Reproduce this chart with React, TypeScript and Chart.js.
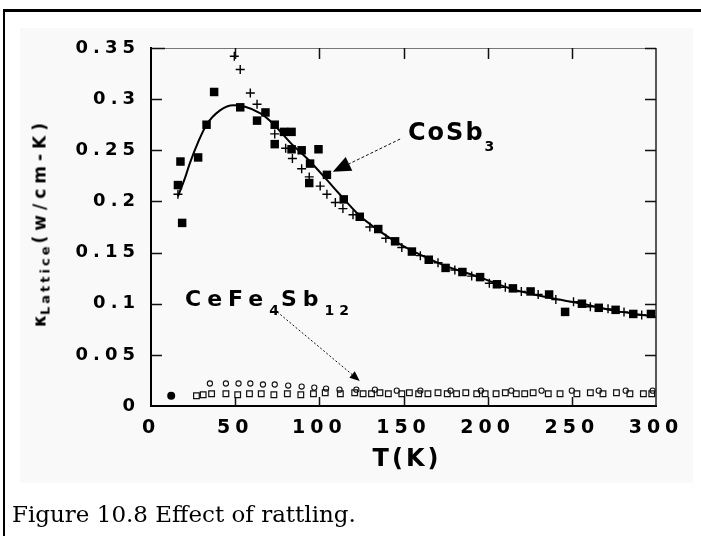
import React, { useEffect, useRef } from "react";
import { Chart, registerables } from "chart.js";
Chart.register(...registerables);

// ---- axis ticks ----
const xTickValues = [0, 50, 100, 150, 200, 250, 300];
const yTickValues = [0, 0.05, 0.1, 0.15, 0.2, 0.25, 0.3, 0.35];

// ---- CoSb3: filled squares ----
const cosbSquareT = [16, 17.5, 18.5, 28, 33, 37.5, 53, 63, 68, 73.5, 73.5, 79, 83.5, 83.5, 89.5, 94.5, 94, 99.5, 104.5, 114.5, 124, 135, 145, 155, 165, 175, 185, 195.5, 205.5, 215, 225.5, 236.5, 246, 256, 266, 276, 286.5, 297];
const cosbSquareK = [0.216, 0.239, 0.179, 0.243, 0.275, 0.307, 0.292, 0.279, 0.287, 0.275, 0.256, 0.268, 0.268, 0.251, 0.25, 0.237, 0.218, 0.251, 0.226, 0.202, 0.185, 0.173, 0.161, 0.151, 0.143, 0.135, 0.131, 0.126, 0.119, 0.115, 0.112, 0.109, 0.092, 0.1, 0.096, 0.094, 0.09, 0.09];

// ---- CoSb3: crosses ----
const cosbCrossT = [16, 49.5, 53, 59, 63, 73.5, 80, 84, 89.5, 94, 100.5, 104.5, 109.5, 114, 120, 130, 139.5, 149, 160, 170.5, 180.5, 190.5, 201, 210.5, 220, 230, 240.5, 251, 261, 271.5, 281, 291.5];
const cosbCrossK = [0.207, 0.342, 0.329, 0.306, 0.295, 0.266, 0.252, 0.242, 0.232, 0.224, 0.215, 0.207, 0.199, 0.193, 0.187, 0.175, 0.164, 0.155, 0.147, 0.14, 0.133, 0.127, 0.12, 0.116, 0.112, 0.109, 0.104, 0.102, 0.097, 0.095, 0.092, 0.089];

// ---- CoSb3: fitted curve ----
const fitT = [16, 20, 23, 28, 33, 41, 49, 55, 65, 72.5, 82.5, 94.5, 104.5, 111, 124, 135, 145, 155, 175, 195, 215, 236, 256, 276, 300];
const fitK = [0.205, 0.222, 0.237, 0.258, 0.275, 0.289, 0.294, 0.293, 0.286, 0.276, 0.258, 0.239, 0.221, 0.209, 0.186, 0.172, 0.161, 0.152, 0.137, 0.126, 0.114, 0.106, 0.1, 0.093, 0.087];

// ---- CeFe4Sb12: open squares ----
const cefeSquareT = [27, 31, 36, 44.5, 51.5, 58.5, 65.5, 73, 81, 89, 96.5, 103.5, 112.5, 121, 126, 131, 136, 141, 149, 153.5, 159, 164.5, 170.5, 176, 181.5, 187, 193.5, 198.5, 205, 210.5, 217, 222, 227, 236, 243, 253, 261, 268.5, 276.5, 284.5, 292.5, 297.5];
const cefeSquareK = [0.01, 0.011, 0.012, 0.012, 0.011, 0.012, 0.012, 0.011, 0.012, 0.011, 0.012, 0.013, 0.012, 0.013, 0.012, 0.012, 0.013, 0.012, 0.012, 0.013, 0.012, 0.012, 0.013, 0.012, 0.012, 0.013, 0.012, 0.012, 0.012, 0.013, 0.012, 0.012, 0.013, 0.012, 0.012, 0.012, 0.013, 0.012, 0.013, 0.012, 0.012, 0.012];

// ---- CeFe4Sb12: open circles ----
const cefeCircleT = [35, 44.5, 52, 59, 66.5, 73.5, 81.5, 89.5, 97, 104, 112, 122, 133, 146, 160, 178, 196, 214, 232, 250, 266, 282, 298];
const cefeCircleK = [0.022, 0.022, 0.022, 0.022, 0.021, 0.021, 0.02, 0.019, 0.018, 0.017, 0.016, 0.016, 0.016, 0.015, 0.015, 0.015, 0.015, 0.015, 0.015, 0.015, 0.015, 0.015, 0.015];

// ---- CeFe4Sb12: filled low-T point ----
const cefeLowT = [12];
const cefeLowK = [0.01];

// ---- annotation arrows (data coordinates: [T, k]) ----
const cosbArrowTail = [148, 0.261];
const cosbArrowTip = [108, 0.229];
const cefeArrowTail = [75, 0.092];
const cefeArrowTip = [124, 0.0245];

const pts = (xs: number[], ys: number[]) => xs.map((x, i) => ({ x, y: ys[i] }));

const TICK_FONT = "'DejaVu Sans', sans-serif";

function drawArrow(ctx: CanvasRenderingContext2D, x1: number, y1: number, x2: number, y2: number, head: number, dash: number[]) {
  const ang = Math.atan2(y2 - y1, x2 - x1);
  const bx = x2 - head * Math.cos(ang);
  const by = y2 - head * Math.sin(ang);
  ctx.save();
  ctx.strokeStyle = "#111";
  ctx.lineWidth = 1;
  ctx.setLineDash(dash);
  ctx.beginPath();
  ctx.moveTo(x1, y1);
  ctx.lineTo(bx, by);
  ctx.stroke();
  ctx.setLineDash([]);
  ctx.fillStyle = "#000";
  const w = head * 0.42;
  ctx.beginPath();
  ctx.moveTo(x2, y2);
  ctx.lineTo(bx + w * Math.sin(ang), by - w * Math.cos(ang));
  ctx.lineTo(bx - w * Math.sin(ang), by + w * Math.cos(ang));
  ctx.closePath();
  ctx.fill();
  ctx.restore();
}

const decorPlugin = {
  id: "decor",
  beforeDraw(chart: any) {
    chart.ctx.letterSpacing = "5px";
  },
  afterDraw(chart: any) {
    const ctx: CanvasRenderingContext2D = chart.ctx;
    ctx.save();
    (ctx as any).letterSpacing = "0px";
    const { left, right, top, bottom } = chart.chartArea;
    const xs = chart.scales.x;
    const ys = chart.scales.y;
    // top frame line (thin grey)
    ctx.strokeStyle = "#777";
    ctx.lineWidth = 1;
    ctx.beginPath();
    ctx.moveTo(left, top + 0.5);
    ctx.lineTo(right, top + 0.5);
    ctx.stroke();
    // right frame line
    ctx.strokeStyle = "#222";
    ctx.lineWidth = 1.5;
    ctx.beginPath();
    ctx.moveTo(right, top);
    ctx.lineTo(right, bottom);
    ctx.stroke();
    // inward ticks
    ctx.strokeStyle = "#111";
    ctx.lineWidth = 1.5;
    xTickValues.forEach((v) => {
      if (v <= 0 || v >= 300) return;
      const px = Math.round(xs.getPixelForValue(v)) + 0.5;
      ctx.beginPath();
      ctx.moveTo(px, bottom);
      ctx.lineTo(px, bottom - 9);
      ctx.moveTo(px, top);
      ctx.lineTo(px, top + 11);
      ctx.stroke();
    });
    yTickValues.forEach((v) => {
      if (v <= 0) return;
      const py = Math.round(ys.getPixelForValue(v)) + 0.5;
      ctx.beginPath();
      ctx.moveTo(left, py);
      ctx.lineTo(left + (v >= 0.35 ? 14 : 11), py);
      ctx.moveTo(right, py);
      ctx.lineTo(right - 11, py);
      ctx.stroke();
    });
    // arrows
    drawArrow(
      ctx,
      xs.getPixelForValue(cosbArrowTail[0]), ys.getPixelForValue(cosbArrowTail[1]),
      xs.getPixelForValue(cosbArrowTip[0]), ys.getPixelForValue(cosbArrowTip[1]),
      18, [3, 2]
    );
    drawArrow(
      ctx,
      xs.getPixelForValue(cefeArrowTail[0]), ys.getPixelForValue(cefeArrowTail[1]),
      xs.getPixelForValue(cefeArrowTip[0]), ys.getPixelForValue(cefeArrowTip[1]),
      10, [2, 2]
    );
    ctx.restore();
  },
};

export default function App() {
  const canvasRef = useRef<HTMLCanvasElement | null>(null);

  useEffect(() => {
    if (!canvasRef.current) return;
    const chart = new Chart(canvasRef.current, {
      type: "scatter",
      data: {
        datasets: [
          {
            label: "fit",
            data: pts(fitT, fitK),
            showLine: true,
            borderColor: "#000",
            borderWidth: 2,
            pointRadius: 0,
            cubicInterpolationMode: "monotone",
          } as any,
          {
            label: "CoSb3 squares",
            data: pts(cosbSquareT, cosbSquareK),
            pointStyle: "rect",
            pointRadius: 6,
            backgroundColor: "#000",
            borderColor: "#000",
            borderWidth: 0,
          },
          {
            label: "CoSb3 crosses",
            data: pts(cosbCrossT, cosbCrossK),
            pointStyle: "cross",
            pointRadius: 4.5,
            borderColor: "#000",
            borderWidth: 1.4,
          },
          {
            label: "CeFe4Sb12 squares",
            data: pts(cefeSquareT, cefeSquareK),
            pointStyle: "rect",
            pointRadius: 4,
            backgroundColor: "rgba(0,0,0,0)",
            borderColor: "#111",
            borderWidth: 1.2,
          },
          {
            label: "CeFe4Sb12 circles",
            data: pts(cefeCircleT, cefeCircleK),
            pointStyle: "circle",
            pointRadius: 2.6,
            backgroundColor: "rgba(0,0,0,0)",
            borderColor: "#111",
            borderWidth: 1.1,
          },
          {
            label: "CeFe4Sb12 low",
            data: pts(cefeLowT, cefeLowK),
            pointStyle: "circle",
            pointRadius: 4,
            backgroundColor: "#000",
            borderColor: "#000",
            borderWidth: 0,
          },
        ],
      },
      options: {
        responsive: false,
        animation: false,
        devicePixelRatio: 1,
        layout: { padding: { left: 0, right: 45, top: 48, bottom: 0 } },
        plugins: { legend: { display: false }, tooltip: { enabled: false } },
        scales: {
          x: {
            type: "linear",
            min: 0,
            max: 300,
            afterFit: (s: any) => { s.height = 130; },
            afterBuildTicks: (s: any) => { s.ticks = xTickValues.map((v) => ({ value: v })); },
            grid: { display: false, drawTicks: false },
            border: { display: true, color: "#000", width: 2 },
            ticks: {
              color: "#000",
              padding: 11,
              maxRotation: 0,
              autoSkip: false,
              font: { family: TICK_FONT, size: 19, weight: "bold" },
              callback: (v: any) => String(v),
            },
          },
          y: {
            type: "linear",
            min: 0,
            max: 0.35,
            afterFit: (s: any) => { s.width = 151; },
            afterBuildTicks: (s: any) => { s.ticks = yTickValues.map((v) => ({ value: v })); },
            grid: { display: false, drawTicks: false },
            border: { display: true, color: "#000", width: 2 },
            ticks: {
              color: "#000",
              padding: 11,
              autoSkip: false,
              font: { family: TICK_FONT, size: 18, weight: "bold" },
              callback: (v: any) => String(v),
            },
          },
        },
      } as any,
      plugins: [decorPlugin],
    });
    return () => chart.destroy();
  }, []);

  const sans = "'DejaVu Sans', sans-serif";
  const abs = (s: React.CSSProperties): React.CSSProperties => ({ position: "absolute", whiteSpace: "nowrap", ...s });

  return (
    <div style={{ position: "absolute", left: 0, top: 0, width: 701, height: 536, background: "#fff", overflow: "hidden" }}>
      <div style={abs({ left: 20, top: 28, width: 673, height: 455, background: "#f9f9f9" })} />
      <div style={abs({ left: 3, top: 9, width: 698, height: 3, background: "#000" })} />
      <div style={abs({ left: 3, top: 9, width: 2, height: 527, background: "#000" })} />
      <canvas ref={canvasRef} width={701} height={536} style={{ position: "absolute", left: 0, top: 0, width: 701, height: 536 }} />
      {/* y-axis title */}
      <div
        style={abs({
          left: 40 - 130,
          top: 222 - 8.5,
          width: 260,
          height: 17,
          lineHeight: "17px",
          fontFamily: sans,
          fontWeight: "bold",
          fontSize: 17,
          textAlign: "center",
          color: "#000",
          transform: "rotate(-90deg)",
        })}
      >
        <span>κ</span>
        <span style={{ fontSize: 13, position: "relative", top: 4, letterSpacing: "3px" }}>Lattice</span>
        <span style={{ letterSpacing: "5px" }}>(w/cm-K)</span>
      </div>
      {/* x-axis title */}
      <div
        style={abs({
          left: 407 - 60,
          top: 446,
          width: 120,
          textAlign: "center",
          fontFamily: sans,
          fontWeight: "bold",
          fontSize: 24,
          lineHeight: "24px",
          letterSpacing: "3px",
          color: "#000",
        })}
      >
        T(K)
      </div>
      {/* CoSb3 label */}
      <div style={abs({ left: 408, top: 120, fontFamily: sans, fontWeight: "bold", fontSize: 24, lineHeight: "24px", letterSpacing: "2px", color: "#000" })}>
        CoSb<span style={{ fontSize: 14, position: "relative", top: 11 }}>3</span>
      </div>
      {/* CeFe4Sb12 label */}
      <div style={abs({ left: 185, top: 288, fontFamily: sans, fontWeight: "bold", fontSize: 22, lineHeight: "22px", letterSpacing: "6px", color: "#000" })}>
        CeFe<span style={{ fontSize: 14, position: "relative", top: 9, letterSpacing: "0px", marginRight: 2 }}>4</span>Sb
        <span style={{ fontSize: 14, position: "relative", top: 9, letterSpacing: "5px" }}>12</span>
      </div>
      {/* caption */}
      <div style={abs({ left: 12, top: 503, fontFamily: "'DejaVu Serif', serif", fontSize: 23, lineHeight: "23px", color: "#000" })}>
        Figure 10.8 Effect of rattling.
      </div>
    </div>
  );
}
